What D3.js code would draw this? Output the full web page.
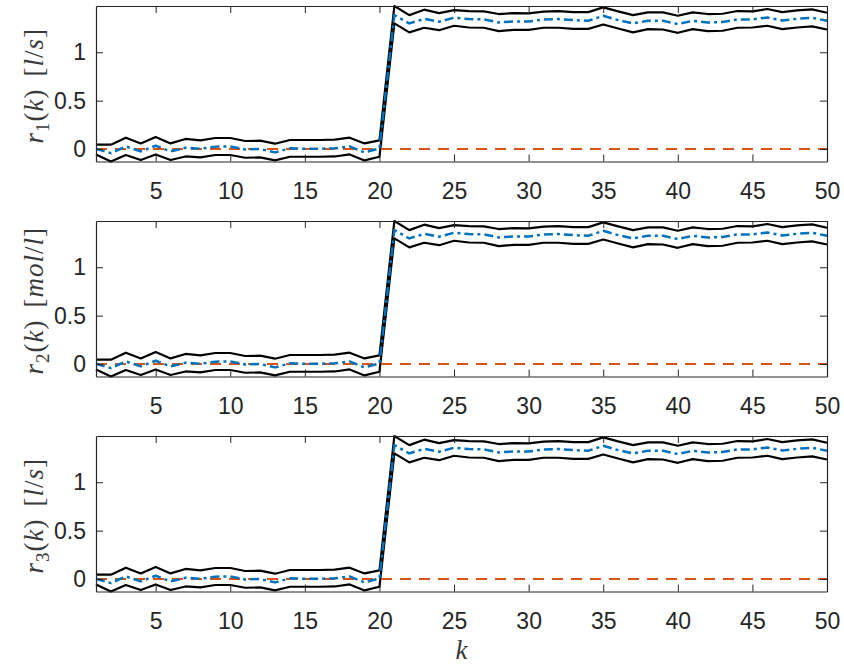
<!DOCTYPE html>
<html>
<head>
<meta charset="utf-8">
<script src="https://cdn.jsdelivr.net/npm/d3@7"></script>
<style>
  html, body { margin: 0; padding: 0; background: #fff; }
  svg { display: block; }
</style>
</head>
<body>
<svg id="chart" width="844" height="665"></svg>
<script>
// Time steps k = 1..50
const steps = d3.range(1, 51);

// Upper confidence bound
const upperBound = [
  0.045, 0.045, 0.117, 0.058, 0.124, 0.058, 0.104, 0.090, 0.114, 0.114,
  0.083, 0.086, 0.055, 0.093, 0.093, 0.093, 0.097, 0.117, 0.058, 0.090,
  1.478, 1.384, 1.440, 1.405, 1.436, 1.426, 1.422, 1.395, 1.405, 1.401,
  1.419, 1.426, 1.415, 1.415, 1.464, 1.422, 1.384, 1.412, 1.412, 1.377,
  1.412, 1.395, 1.398, 1.426, 1.422, 1.447, 1.415, 1.433, 1.443, 1.408
];

// Estimated mean
const meanEstimate = [
  0.003, -0.042, 0.027, -0.025, 0.034, -0.025, 0.013, 0.003, 0.024, 0.027,
  -0.004, 0.000, -0.035, 0.007, 0.003, 0.003, 0.007, 0.027, -0.035, 0.006,
  1.384, 1.298, 1.345, 1.315, 1.357, 1.343, 1.339, 1.308, 1.318, 1.318,
  1.339, 1.343, 1.332, 1.325, 1.377, 1.332, 1.298, 1.325, 1.325, 1.291,
  1.325, 1.308, 1.312, 1.339, 1.339, 1.360, 1.329, 1.346, 1.357, 1.325
];

// Lower confidence bound
const lowerBound = [
  -0.056, -0.129, -0.062, -0.114, -0.056, -0.114, -0.077, -0.087, -0.062, -0.062,
  -0.090, -0.087, -0.118, -0.080, -0.080, -0.080, -0.077, -0.056, -0.118, -0.080,
  1.298, 1.205, 1.253, 1.228, 1.274, 1.256, 1.253, 1.218, 1.232, 1.232,
  1.253, 1.253, 1.242, 1.242, 1.287, 1.246, 1.205, 1.239, 1.235, 1.201,
  1.239, 1.218, 1.222, 1.253, 1.256, 1.274, 1.239, 1.256, 1.267, 1.235
];

// Reference signal
const reference = steps.map(() => 0);

// Tick values
const xTicks = [5, 10, 15, 20, 25, 30, 35, 40, 45, 50];
const yTicks = [0, 0.5, 1];

// Panel labels: subscript index and unit
const panelIndex = ["1", "2", "3"];
const panelUnit = [["l", "/", "s"], ["mol", "/", "l"], ["l", "/", "s"]];

const svg = d3.select("#chart");
const axisColor = "#262626";
const left = 96, right = 827;
const panelTops = [6, 221, 436];
const panelH = 155.5;

const x = d3.scaleLinear().domain([1, 50]).range([left, right]);
const yMin = d3.min(lowerBound), yMax = d3.max(upperBound);

panelTops.forEach((top, i) => {
  const y = d3.scaleLinear().domain([yMin, yMax]).range([top + panelH, top]);
  const g = svg.append("g");

  const line = d3.line().x((d, j) => x(steps[j])).y(d => y(d));

  // Bounds
  [upperBound, lowerBound].forEach(arr => {
    g.append("path").datum(arr)
      .attr("d", line)
      .attr("fill", "none")
      .attr("stroke", "#000")
      .attr("stroke-width", 2.2)
      .attr("stroke-linejoin", "round");
  });

  // Reference (dashed)
  g.append("path").datum(reference)
    .attr("d", line)
    .attr("fill", "none")
    .attr("stroke", "#D95319")
    .attr("stroke-width", 2.2)
    .attr("stroke-dasharray", "11,8");

  // Mean (dash-dot)
  g.append("path").datum(meanEstimate)
    .attr("d", line)
    .attr("fill", "none")
    .attr("stroke", "#0072BD")
    .attr("stroke-width", 2.5)
    .attr("stroke-dasharray", "9,4,3,4")
    .attr("stroke-linejoin", "round");

  // Axes with inward ticks
  const fontFam = "'Liberation Sans', Arial, Helvetica, sans-serif";
  const bottom = g.append("g")
    .attr("transform", `translate(0,${top + panelH})`)
    .call(d3.axisBottom(x).tickValues(xTicks).tickSizeInner(-7).tickSizeOuter(0).tickPadding(21));
  const leftAx = g.append("g")
    .attr("transform", `translate(${left},0)`)
    .call(d3.axisLeft(y).tickValues(yTicks).tickSizeInner(-7).tickSizeOuter(0).tickPadding(10)
      .tickFormat(d => d === 0.5 ? "0.5" : d3.format("d")(d)));
  const topAx = g.append("g")
    .attr("transform", `translate(0,${top})`)
    .call(d3.axisTop(x).tickValues(xTicks).tickSizeInner(-7).tickSizeOuter(0).tickFormat(""));
  const rightAx = g.append("g")
    .attr("transform", `translate(${right},0)`)
    .call(d3.axisRight(y).tickValues(yTicks).tickSizeInner(-7).tickSizeOuter(0).tickFormat(""));

  [bottom, leftAx, topAx, rightAx].forEach(a => {
    a.selectAll("path.domain").attr("stroke", axisColor).attr("stroke-width", 1.2);
    a.selectAll(".tick line").attr("stroke", axisColor).attr("stroke-width", 1);
    a.selectAll(".tick text")
      .attr("fill", axisColor)
      .style("font-family", fontFam)
      .style("font-size", "23px");
  });

  // Y label: r_i(k) [unit]
  const cy = top + panelH / 2 + 2;
  const t = g.append("text")
    .attr("transform", `translate(43,${cy}) rotate(-90)`)
    .attr("text-anchor", "middle")
    .attr("fill", "#3a3a3a")
    .style("font-family", "'Liberation Serif', 'Times New Roman', serif")
    .style("font-size", "27px")
    .style("letter-spacing", "1px");
  t.append("tspan").style("font-style", "italic").text("r");
  t.append("tspan").attr("dy", 6).style("font-size", "19px").text(panelIndex[i]);
  t.append("tspan").attr("dy", -6).text("(");
  t.append("tspan").style("font-style", "italic").text("k");
  t.append("tspan").text(")");
  t.append("tspan").attr("dx", 12).text("[");
  t.append("tspan").style("font-style", "italic").text(panelUnit[i][0]);
  t.append("tspan").text(panelUnit[i][1]);
  t.append("tspan").style("font-style", "italic").text(panelUnit[i][2]);
  t.append("tspan").text("]");
});

// X label
svg.append("text")
  .attr("x", (left + right) / 2)
  .attr("y", 659)
  .attr("text-anchor", "middle")
  .attr("fill", "#3a3a3a")
  .style("font-family", "'Liberation Serif', 'Times New Roman', serif")
  .style("font-style", "italic")
  .style("font-size", "27px")
  .text("k");
</script>
</body>
</html>
